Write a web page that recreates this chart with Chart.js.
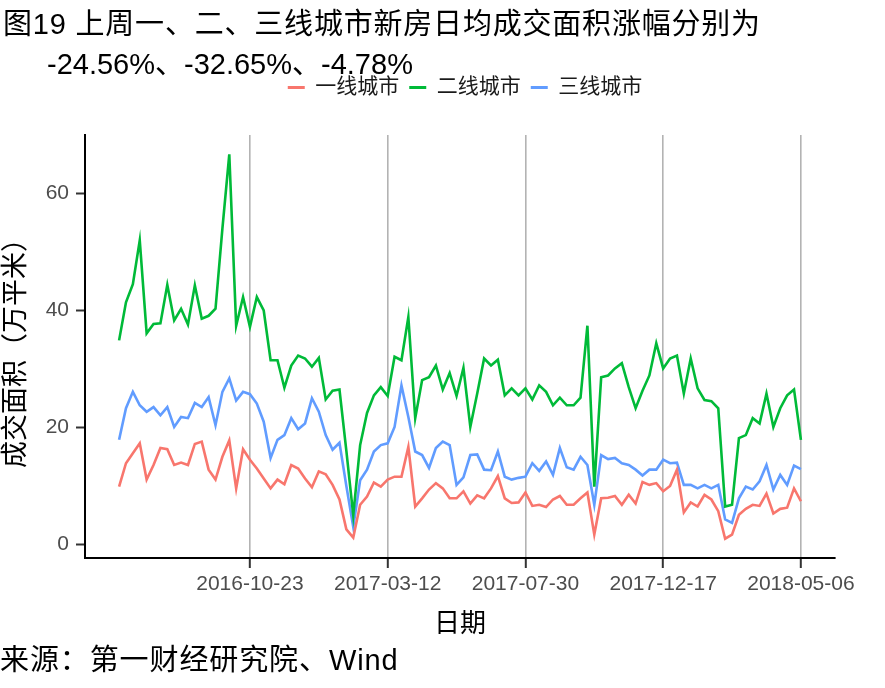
<!DOCTYPE html>
<html><head><meta charset="utf-8">
<script src="https://cdn.jsdelivr.net/npm/chart.js@4.4.1/dist/chart.umd.min.js"></script>
<style>
html,body{margin:0;padding:0;background:#fff;}
#wrap{position:relative;width:885px;height:688px;overflow:hidden;background:#fff;}
#c{position:absolute;left:0;top:0;}
.t{position:absolute;white-space:nowrap;font-family:"Liberation Sans","Noto Sans CJK SC",sans-serif;color:#000;line-height:1;}
</style></head><body>
<div id="wrap">
<canvas id="c" width="885" height="688"></canvas>
<div class="t" style="left:3px;top:10px;font-size:29px;letter-spacing:0.8px">图19 上周一、二、三线城市新房日均成交面积涨幅分别为</div>
<div class="t" style="left:47px;top:50px;font-size:29px">-24.56%、-32.65%、-4.78%</div>
<div class="t" style="left:0px;top:646px;font-size:29px;letter-spacing:0.9px">来源：第一财经研究院、Wind</div>
</div>
<script>
const dates = [
'2016-06-12','2016-06-19','2016-06-26','2016-07-03','2016-07-10','2016-07-17','2016-07-24','2016-07-31','2016-08-07','2016-08-14',
'2016-08-21','2016-08-28','2016-09-04','2016-09-11','2016-09-18','2016-09-25','2016-10-02','2016-10-09','2016-10-16','2016-10-23',
'2016-10-30','2016-11-06','2016-11-13','2016-11-20','2016-11-27','2016-12-04','2016-12-11','2016-12-18','2016-12-25','2017-01-01',
'2017-01-08','2017-01-15','2017-01-22','2017-01-29','2017-02-05','2017-02-12','2017-02-19','2017-02-26','2017-03-05','2017-03-12',
'2017-03-19','2017-03-26','2017-04-02','2017-04-09','2017-04-16','2017-04-23','2017-04-30','2017-05-07','2017-05-14','2017-05-21',
'2017-05-28','2017-06-04','2017-06-11','2017-06-18','2017-06-25','2017-07-02','2017-07-09','2017-07-16','2017-07-23','2017-07-30',
'2017-08-06','2017-08-13','2017-08-20','2017-08-27','2017-09-03','2017-09-10','2017-09-17','2017-09-24','2017-10-01','2017-10-08',
'2017-10-15','2017-10-22','2017-10-29','2017-11-05','2017-11-12','2017-11-19','2017-11-26','2017-12-03','2017-12-10','2017-12-17',
'2017-12-24','2017-12-31','2018-01-07','2018-01-14','2018-01-21','2018-01-28','2018-02-04','2018-02-11','2018-02-18','2018-02-25',
'2018-03-04','2018-03-11','2018-03-18','2018-03-25','2018-04-01','2018-04-08','2018-04-15','2018-04-22','2018-04-29','2018-05-06'
];
const tickDates = ['2016-10-23','2017-03-12','2017-07-30','2017-12-17','2018-05-06'];
const yTicks = [0, 20, 40, 60];
const seriesNames = ['一线城市', '二线城市', '三线城市'];

const tier1 = [
9.9,13.9,15.6,17.3,11.1,13.6,16.5,16.3,13.6,14.0,
13.6,17.2,17.6,12.8,11.1,15.0,17.8,9.6,16.3,14.5,
13.0,11.3,9.6,11.1,10.3,13.6,13.0,11.3,9.8,12.5,
12.0,10.2,7.7,2.6,1.2,6.8,8.2,10.6,9.9,11.1,
11.6,11.6,16.7,6.5,7.9,9.4,10.5,9.6,7.9,7.9,
9.1,7.0,8.4,7.9,9.6,11.7,7.9,7.1,7.2,8.9,
6.6,6.8,6.4,7.7,8.3,6.8,6.8,7.9,8.9,1.7,
7.9,8.0,8.3,6.8,8.5,7.0,10.7,10.2,10.5,9.1,
10.0,12.8,5.5,7.2,6.5,8.5,7.7,5.7,1.0,1.7,
5.1,6.1,6.8,6.6,8.7,5.3,6.1,6.3,9.6,7.4
];
const tier2 = [
34.9,41.4,44.5,52.0,36.1,37.7,37.8,44.4,38.3,40.3,
37.6,44.3,38.6,39.1,40.3,54.0,66.7,37.4,42.3,37.2,
42.3,40.0,31.5,31.5,26.8,30.6,32.3,31.8,30.4,31.9,
24.8,26.3,26.5,16.0,5.0,17.0,22.5,25.5,26.9,25.4,
32.1,31.5,38.9,21.6,28.1,28.6,30.6,26.5,29.3,25.4,
30.2,20.1,25.8,31.8,30.6,31.6,25.5,26.7,25.5,26.7,
24.8,27.2,26.1,23.8,25.1,23.8,23.8,25.1,37.4,9.9,
28.6,28.9,30.1,31.0,26.9,23.3,26.3,28.9,34.4,30.1,
31.8,32.3,25.8,31.8,26.7,24.7,24.5,23.3,6.5,6.8,
18.2,18.7,21.6,20.7,25.8,20.1,23.3,25.5,26.5,17.9
];
const tier3 = [
17.9,23.3,26.1,23.8,22.7,23.5,22.1,23.5,20.1,21.8,
21.6,24.2,23.5,25.2,20.4,26.1,28.4,24.6,26.1,25.7,
24.1,21.0,14.8,17.9,18.7,21.6,19.7,20.7,25.0,22.7,
18.7,16.2,17.4,10.0,3.0,11.0,12.8,15.9,17.0,17.3,
20.1,27.2,21.8,15.9,15.3,13.1,16.5,17.6,17.0,10.2,
11.5,15.3,15.4,12.8,12.7,15.9,11.6,11.1,11.4,11.6,
13.9,12.6,14.2,11.9,16.5,13.2,12.8,15.0,13.6,6.8,
15.3,14.6,14.8,13.9,13.6,12.8,11.8,12.8,12.8,14.5,
13.9,14.0,10.2,10.2,9.6,10.2,9.6,10.2,4.3,3.7,
7.9,9.9,9.4,10.8,13.6,9.4,11.9,10.2,13.5,12.9
];
const seriesColors = ['#F8766D', '#00BA38', '#619CFF'];

const FAMILY = '"Liberation Sans","Noto Sans CJK SC",sans-serif';
Chart.defaults.font.family = FAMILY;

const toPoints = arr => arr.map((v, i) => ({x: i, y: v}));
const tickIdx = tickDates.map(d => dates.indexOf(d));
const allSeries = [tier1, tier2, tier3];

const legendTweak = {
  id: 'legendTweak',
  beforeLayout(chart) {
    const lg = chart.legend;
    if (lg && !lg._patched) {
      const f = lg.fit;
      lg.fit = function () { f.call(this); this.height += 27; };
      lg._patched = true;
    }
  },
  afterLayout(chart) {
    const lg = chart.legend;
    if (lg) { lg.left += 5; lg.right += 5; }
  }
};

new Chart(document.getElementById('c'), {
  type: 'line',
  data: {
    datasets: allSeries.map((arr, k) => ({
      label: seriesNames[k],
      data: toPoints(arr),
      borderColor: seriesColors[k],
      backgroundColor: seriesColors[k],
      borderWidth: 2.6,
      pointRadius: 0,
      tension: 0,
      fill: false
    }))
  },
  options: {
    responsive: false,
    animation: false,
    events: [],
    layout: {padding: {top: 67, right: 50, bottom: 0, left: 0}},
    plugins: {
      tooltip: {enabled: false},
      title: {display: false},
      legend: {
        display: true,
        position: 'top',
        fullSize: false,
        labels: {
          boxWidth: 17,
          boxHeight: 3,
          padding: 10,
          color: '#1a1a1a',
          font: {size: 21, family: FAMILY},
          generateLabels: (chart) => Chart.defaults.plugins.legend.labels.generateLabels(chart)
            .map(l => Object.assign({}, l, {lineWidth: 0, fillStyle: l.strokeStyle}))
        }
      }
    },
    scales: {
      x: {
        type: 'linear',
        min: -4.95,
        max: 103.95,
        afterBuildTicks: s => { s.ticks = tickIdx.map(v => ({value: v})); },
        afterFit: s => { s.height = 130; },
        ticks: {
          color: '#4d4d4d',
          font: {size: 21, family: FAMILY},
          padding: 4,
          maxRotation: 0,
          autoSkip: false,
          callback: v => dates[v]
        },
        grid: {
          color: '#b3b3b3',
          lineWidth: 1.6,
          drawOnChartArea: true,
          drawTicks: true,
          tickLength: 10,
          tickColor: '#333333',
          tickWidth: 2
        },
        border: {display: true, color: '#000', width: 2},
        title: {display: true, text: '日期', color: '#000', font: {size: 26, family: FAMILY}, padding: {top: 0, bottom: 48}}
      },
      y: {
        type: 'linear',
        min: -2.3,
        max: 70,
        afterBuildTicks: s => { s.ticks = yTicks.map(v => ({value: v})); },
        afterFit: s => { s.width = 85; },
        ticks: {color: '#4d4d4d', font: {size: 21, family: FAMILY}, padding: 7},
        grid: {
          drawOnChartArea: false,
          drawTicks: true,
          tickLength: 9,
          tickColor: '#333333',
          tickWidth: 2
        },
        border: {display: true, color: '#000', width: 2},
        title: {display: true, text: '成交面积（万平米）', color: '#000', font: {size: 27, family: FAMILY}, padding: {top: 0, bottom: 0}}
      }
    }
  },
  plugins: [legendTweak]
});
</script>
</body></html>
